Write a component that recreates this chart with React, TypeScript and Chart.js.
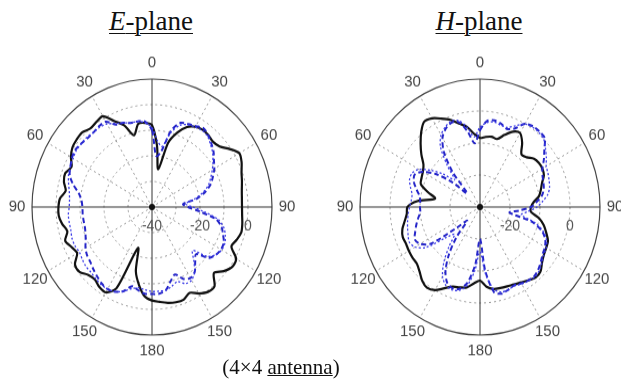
import { useEffect, useRef } from 'react';
import { Chart, registerables } from 'chart.js';

Chart.register(...registerables);

// angle categories, every 5 degrees clockwise from the top
const angleCategories: string[] = Array.from({ length: 72 }, (_, i) => String(i * 5));
const angleTickLabels = ['0', '30', '60', '90', '120', '150', '180', '150', '120', '90', '60', '30'];

// E-plane (dB), scale -40 .. 10
const eRadialLabels = [-40, -20, 0];
const eBlack = [
  -8, -16, -25, -14, -9, -5.5, -3.8, -3.2, -3.4, -4, -3.2, -0.5,
  2, 1.2, -0.3, -1.2, -2, -2.4, -2.5, -2.3, -1.8, -1.5, -2.5, -3.5,
  0.5, 0.8, -1, -3.5, 0.5, 0.5, -1, -3, -1.5, -1.5, -2, -2.8,
  -3.5, -5, -9, -14, -23, -5, -1.5, -1.8, -3, -2.5, -0.6, -0.8,
  -4, -3, -1.5, -3.5, -2, -1, -1, -1.5, -3.5, -2, -1.5, -3,
  -1, 0.5, 1, 1.2, 0, 0.5, 1, -3, -6, -11, -7, -7,
];
const eDashed = [
  -10, -20, -18, -9, -5, -4.3, -3.5, -2.5, -3.5, -5, -6.5, -8.5,
  -10, -12, -14, -17, -21, -27, -25, -20, -13, -10, -8.5, -7,
  -6.8, -7.5, -9, -14, -12, -9, -8, -9, -12, -10, -7, -6,
  -6, -6, -7, -8, -5, -3.5, -3, -3.5, -4.5, -5.5, -6.5, -7,
  -8, -9.5, -10.5, -11, -11, -11, -11, -10.5, -9, -6, -3.5, -2.5,
  -1.5, -1, -1.5, -2, -2, -1.5, -1.5, -4.5, -5, -6, -6, -6.5,
];
const eDotted = [
  -9, -14, -16, -10, -6, -4.5, -4, -3.5, -4, -5.5, -7, -9,
  -11, -13, -15, -18, -22, -26, -23, -18, -12, -9, -7.5, -6.5,
  -6.5, -7.5, -10, -16, -13, -9, -7, -7, -9, -8, -7, -7,
  -7, -7.5, -8, -7, -5, -3.5, -3, -3, -3.5, -4, -4, -4.5,
  -5, -4.5, -4.5, -5, -5, -5, -5.5, -5.5, -5, -4, -3, -2.5,
  -2, -1.5, -1.5, -1.5, -2, -2, -2.5, -4, -5, -6, -6, -7,
];

// H-plane (dB), scale -30 .. 10
const hRadialLabels = [-20, 0];
const hBlack = [
  -8.4, -8, -7.7, -8, -6, -4, -3.3, -5.5, -8.5, -8, -6.5, -6,
  -6, -6.5, -8, -9, -10, -12, -13, -13, -10, -8, -6.5, -5,
  -4.5, -4, -3, -1.5, -1.2, -2, -2.7, -3.3, -3.6, -3.8, -4, -5,
  -7, -6, -4.5, -4, -3.5, -2, 0, 0.8, 0, -1.5, -2.5, -2.5,
  -2.6, -2.8, -2.6, -3.2, -4.5, -5.5, -5.8, -9, -14.8, -12, -9, -8.5,
  -8, -7, -4.5, -2, 0.5, 2.5, 2, 0.5, -1, -3, -4.5, -7,
];
const hDashed = [
  -6, -3, -2.5, -3, -4, -3, 0, 0.8, 0.8, 0.5, -2, -4,
  -6, -7, -7.5, -8, -9, -11, -13, -17, -20, -12, -8, -6,
  -5, -4.5, -3.5, -2.5, -1.8, -2, -2.5, -3, -2.5, -2, -3, -10,
  -20, -12, -6, -3.5, -3, -4, -7, -12, -18, -24, -20, -10,
  -7, -6, -7, -8, -9, -10, -10, -10, -9.5, -8, -6.5, -6,
  -8, -12, -18, -24, -16, -9, -5, -3, -2, -2.5, -6, -10,
];
const hDotted = [
  -5, -3.5, -3, -3.5, -3.5, -2, 0, 0.5, 0.5, 0, -1.5, -3,
  -4.5, -5, -5.5, -6, -7, -9, -11, -14, -16, -11, -7.5, -5.5,
  -4.5, -4, -3, -2, -1.5, -1.8, -2.2, -2.8, -2.5, -2.5, -4, -9,
  -16, -10, -5, -3, -2.5, -3, -5, -9, -14, -18, -15, -8,
  -5, -4, -4.5, -5, -5.5, -6, -6.5, -7, -7, -6, -5, -5,
  -6.5, -10, -14, -18, -13, -7, -4, -2.5, -1.5, -2, -4.5, -8,
];

const SERIF = '"Liberation Serif", "Times New Roman", serif';
const SANS = '"Liberation Sans", Arial, sans-serif';

type PlotProps = {
  left: number;
  min: number;
  max: number;
  radialLabels: number[];
  black: number[];
  dashed: number[];
  dotted: number[];
};

function PolarPlot({ left, min, max, radialLabels, black, dashed, dotted }: PlotProps) {
  const ref = useRef<HTMLCanvasElement | null>(null);
  useEffect(() => {
    if (!ref.current) return;
    const labelPlugin = {
      id: 'polarLabels',
      afterDatasetsDraw(chart: any) {
        const scale = chart.scales.r;
        const ctx = chart.ctx;
        ctx.save();
        ctx.fillStyle = '#111';
        ctx.beginPath();
        ctx.arc(scale.xCenter, scale.yCenter, 3, 0, Math.PI * 2);
        ctx.fill();
        ctx.font = `15px ${SANS}`;
        ctx.fillStyle = '#444';
        ctx.textAlign = 'center';
        ctx.textBaseline = 'middle';
        angleTickLabels.forEach((lab, i) => {
          const p = scale.getPointPosition(i * 6, scale.drawingArea + 15);
          ctx.fillText(lab, p.x, p.y);
        });
        ctx.font = `14px ${SANS}`;
        ctx.fillStyle = '#555';
        radialLabels.forEach((v) => {
          const d = scale.getDistanceFromCenterForValue(v);
          ctx.fillText(String(v), scale.xCenter + d, scale.yCenter + 18);
        });
        ctx.restore();
      },
    };
    const chart = new Chart(ref.current, {
      type: 'radar',
      data: {
        labels: angleCategories,
        datasets: [
          { data: dotted, borderColor: '#3b3be6', borderWidth: 1.3, borderDash: [2, 2], fill: false },
          { data: dashed, borderColor: '#2424c8', borderWidth: 2, borderDash: [5, 3], fill: false },
          { data: black, borderColor: '#111111', borderWidth: 2.2, fill: false },
        ],
      },
      options: {
        animation: false,
        responsive: false,
        layout: { padding: 30 },
        plugins: { legend: { display: false }, tooltip: { enabled: false } },
        elements: {
          point: { radius: 0, hitRadius: 0 },
          line: { tension: 0.28, borderJoinStyle: 'round' },
        },
        scales: {
          r: {
            min,
            max,
            startAngle: 0,
            ticks: { display: false, stepSize: 10 },
            pointLabels: { display: false },
            grid: {
              circular: true,
              color: (c: any) => (c.tick && c.tick.value === max ? '#444' : '#999'),
              lineWidth: (c: any) => (c.tick && c.tick.value === max ? 1.2 : 1),
            },
            border: {
              dash: (c: any) => (c.tick && c.tick.value === max ? [] : [2, 3]),
            },
            angleLines: {
              display: true,
              color: (c: any) => (c.index % 18 === 0 ? '#333' : '#999'),
              lineWidth: (c: any) => (c.index % 6 === 0 ? 1 : 0),
              borderDash: (c: any) => (c.index % 18 === 0 ? [] : [2, 3]),
            },
          },
        },
      },
      plugins: [labelPlugin],
    } as any);
    return () => chart.destroy();
  }, []);
  return (
    <div
      style={{
        position: 'absolute',
        left,
        top: 57,
        width: 300,
        height: 300,
        transform: 'scaleY(1.0667)',
        transformOrigin: '50% 50%',
      }}
    >
      <canvas ref={ref} width={300} height={300} style={{ display: 'block' }} />
    </div>
  );
}

function Title({ cx, letter }: { cx: number; letter: string }) {
  return (
    <div
      style={{
        position: 'absolute',
        left: cx - 100,
        top: 8,
        width: 200,
        textAlign: 'center',
        fontFamily: SERIF,
        fontSize: 27,
        lineHeight: '26px',
        color: '#111',
      }}
    >
      <span style={{ textDecoration: 'underline', textDecorationThickness: '1px', textUnderlineOffset: '3px' }}>
        <i>{letter}</i>-plane
      </span>
    </div>
  );
}

export default function App() {
  useEffect(() => {
    document.body.style.overflow = 'hidden';
  }, []);
  return (
    <div
      style={{
        position: 'absolute',
        left: 0,
        top: 0,
        width: 621,
        height: 385,
        overflow: 'hidden',
        background: '#fff',
      }}
    >
      <Title cx={151} letter="E" />
      <Title cx={479} letter="H" />
      <PolarPlot left={2} min={-40} max={10} radialLabels={eRadialLabels} black={eBlack} dashed={eDashed} dotted={eDotted} />
      <PolarPlot left={330} min={-30} max={10} radialLabels={hRadialLabels} black={hBlack} dashed={hDashed} dotted={hDotted} />
      <div
        style={{
          position: 'absolute',
          left: 181,
          top: 357,
          width: 200,
          textAlign: 'center',
          fontFamily: SERIF,
          fontSize: 21,
          lineHeight: '20px',
          color: '#111',
        }}
      >
        (4×4 <span style={{ textDecoration: 'underline', textDecorationThickness: '1px' }}>antenna</span>)
      </div>
    </div>
  );
}
